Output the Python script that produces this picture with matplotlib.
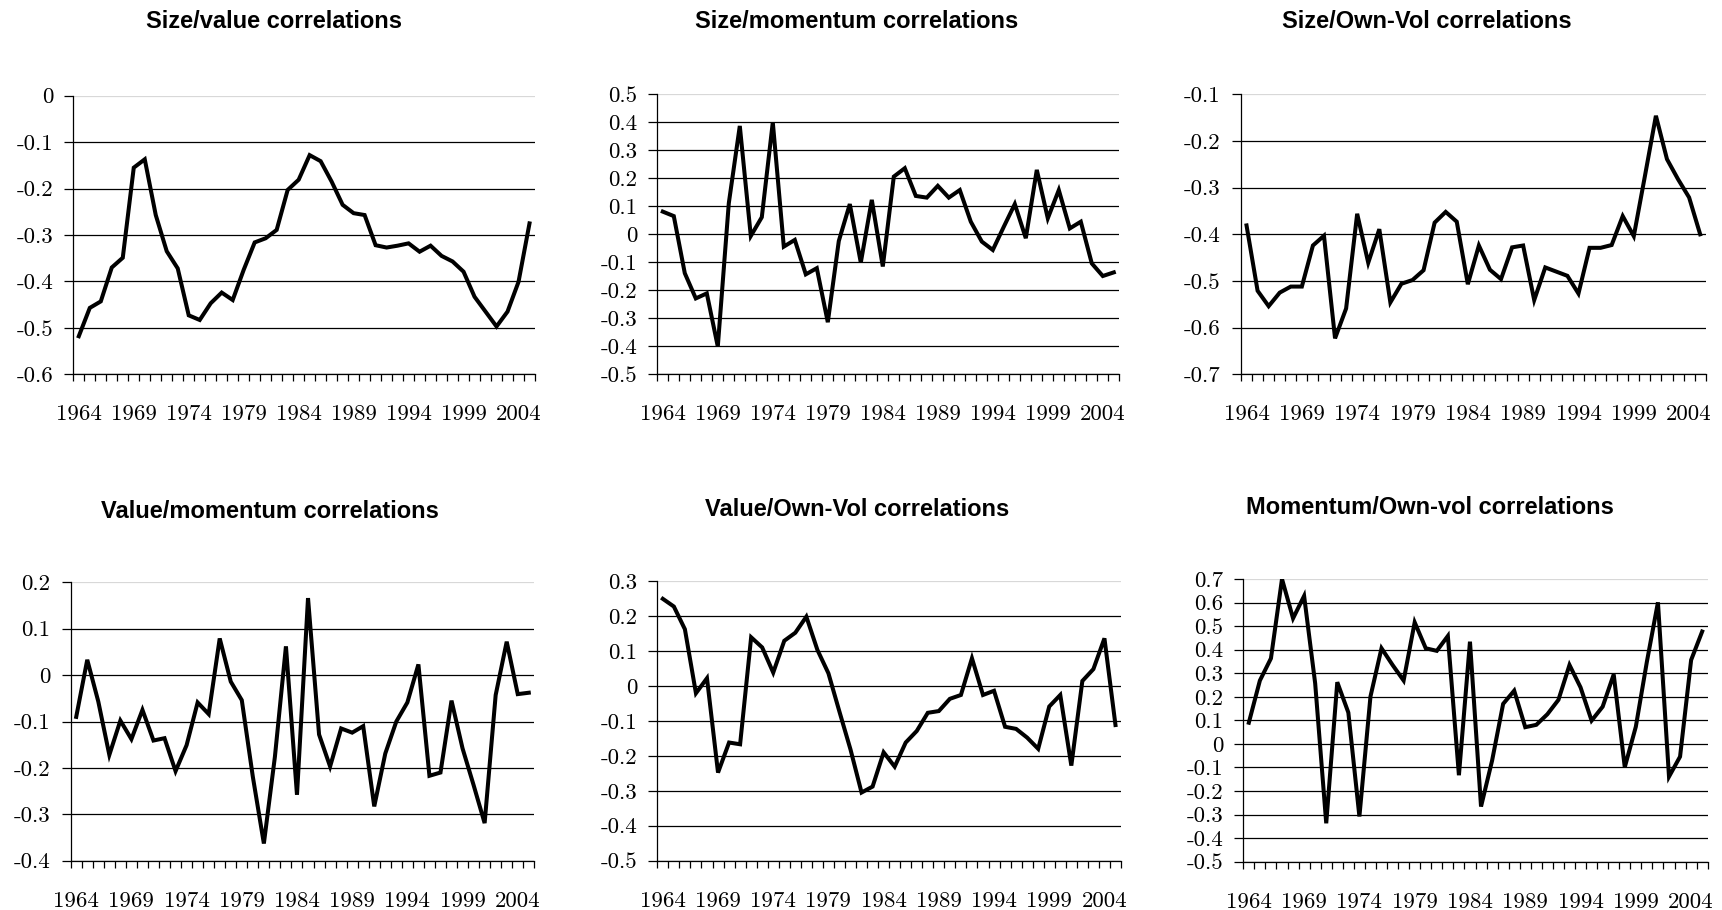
import matplotlib
matplotlib.use("Agg")
import matplotlib.pyplot as plt
from matplotlib.ticker import FixedLocator, FixedFormatter, NullFormatter

years = list(range(1964, 2006))

size_value = [-0.518, -0.457, -0.443, -0.370, -0.349, -0.155, -0.137, -0.257, -0.335, -0.372,
              -0.473, -0.483, -0.447, -0.424, -0.440, -0.375, -0.316, -0.307, -0.289, -0.203,
              -0.181, -0.128, -0.141, -0.185, -0.235, -0.253, -0.257, -0.322, -0.327, -0.323,
              -0.318, -0.336, -0.323, -0.345, -0.357, -0.379, -0.433, -0.465, -0.497, -0.465,
              -0.401, -0.275]

size_momentum = [0.081, 0.065, -0.139, -0.229, -0.211, -0.401, 0.111, 0.387, -0.006, 0.061,
                 0.400, -0.044, -0.020, -0.143, -0.121, -0.314, -0.024, 0.108, -0.101, 0.123,
                 -0.115, 0.206, 0.236, 0.137, 0.131, 0.173, 0.131, 0.158, 0.045, -0.026,
                 -0.056, 0.027, 0.108, -0.014, 0.230, 0.057, 0.158, 0.021, 0.045, -0.104,
                 -0.149, -0.136]

size_ownvol = [-0.381, -0.521, -0.554, -0.525, -0.512, -0.512, -0.424, -0.403, -0.623, -0.559,
               -0.356, -0.461, -0.389, -0.546, -0.506, -0.498, -0.477, -0.375, -0.352, -0.373,
               -0.507, -0.424, -0.476, -0.496, -0.428, -0.424, -0.541, -0.471, -0.480, -0.489,
               -0.527, -0.429, -0.429, -0.423, -0.361, -0.404, -0.276, -0.146, -0.239, -0.282,
               -0.321, -0.400]

value_momentum = [-0.090, 0.033, -0.057, -0.172, -0.098, -0.138, -0.075, -0.141, -0.136, -0.207,
                  -0.151, -0.059, -0.084, 0.079, -0.014, -0.054, -0.219, -0.363, -0.176, 0.062,
                  -0.258, 0.166, -0.128, -0.197, -0.115, -0.124, -0.110, -0.283, -0.169, -0.100,
                  -0.059, 0.023, -0.217, -0.210, -0.055, -0.158, -0.237, -0.319, -0.043, 0.072,
                  -0.041, -0.038]

value_ownvol = [0.249, 0.227, 0.162, -0.021, 0.022, -0.248, -0.162, -0.167, 0.139, 0.110,
                0.038, 0.129, 0.152, 0.198, 0.103, 0.036, -0.074, -0.182, -0.305, -0.288,
                -0.190, -0.231, -0.162, -0.129, -0.077, -0.072, -0.037, -0.026, 0.079, -0.026,
                -0.014, -0.117, -0.123, -0.148, -0.180, -0.059, -0.026, -0.228, 0.014, 0.048,
                0.136, -0.112]

momentum_ownvol = [0.090, 0.269, 0.363, 0.700, 0.533, 0.628, 0.257, -0.337, 0.262, 0.133,
                   -0.308, 0.201, 0.406, 0.335, 0.269, 0.516, 0.406, 0.395, 0.458, -0.133,
                   0.434, -0.266, -0.071, 0.170, 0.226, 0.071, 0.081, 0.126, 0.187, 0.335,
                   0.240, 0.099, 0.158, 0.295, -0.099, 0.073, 0.349, 0.601, -0.139, -0.054,
                   0.356, 0.477]

titles = ["Size/value correlations", "Size/momentum correlations", "Size/Own-Vol correlations",
          "Value/momentum correlations", "Value/Own-Vol correlations", "Momentum/Own-vol correlations"]

yticks = [
    [-0.6, -0.5, -0.4, -0.3, -0.2, -0.1, 0.0],
    [-0.5, -0.4, -0.3, -0.2, -0.1, 0.0, 0.1, 0.2, 0.3, 0.4, 0.5],
    [-0.7, -0.6, -0.5, -0.4, -0.3, -0.2, -0.1],
    [-0.4, -0.3, -0.2, -0.1, 0.0, 0.1, 0.2],
    [-0.5, -0.4, -0.3, -0.2, -0.1, 0.0, 0.1, 0.2, 0.3],
    [-0.5, -0.4, -0.3, -0.2, -0.1, 0.0, 0.1, 0.2, 0.3, 0.4, 0.5, 0.6, 0.7],
]

series = [size_value, size_momentum, size_ownvol, value_momentum, value_ownvol, momentum_ownvol]

W, H = 1722, 910
# axes boxes in pixels: left, right, top, bottom
boxes = [
    (73.3, 535.0, 95.7, 374.3),
    (657.3, 1119.3, 94.3, 374.3),
    (1241.0, 1705.7, 94.3, 374.3),
    (70.7, 534.3, 582.3, 860.7),
    (657.3, 1121.0, 581.0, 860.7),
    (1243.3, 1707.7, 579.0, 861.7),
]
title_pos = [(274, 22), (857, 22), (1427, 22), (270, 511), (857, 510), (1430, 507)]


def ylab(v):
    if abs(v) < 1e-9:
        return "0"
    return ("%.1f" % v).replace("\u2212", "-")


fig = plt.figure(figsize=(W / 100, H / 100), dpi=100)
serif = "cmr10"
n = len(years)
xs = list(range(n))

for k in range(6):
    l, r, t, b = boxes[k]
    ax = fig.add_axes([l / W, 1 - b / H, (r - l) / W, (b - t) / H])
    ax.plot(xs, series[k], color="black", lw=2.9, solid_joinstyle="miter", zorder=3)
    yt = yticks[k]
    ax.set_ylim(yt[0], yt[-1])
    ax.set_xlim(-0.5, n - 0.5)
    ax.yaxis.set_major_locator(FixedLocator(yt))
    ax.yaxis.set_major_formatter(FixedFormatter([ylab(v) for v in yt]))
    ax.yaxis.grid(True, color="black", lw=0.9)
    gls = ax.get_ygridlines()
    gls[-1].set_color("#d8d8d8")
    ax.set_axisbelow(True)
    major = xs[::5]
    ax.xaxis.set_major_locator(FixedLocator(major))
    ax.xaxis.set_major_formatter(FixedFormatter([str(years[i]) for i in major]))
    ax.xaxis.set_minor_locator(FixedLocator([i - 0.5 for i in range(n + 1)]))
    ax.xaxis.set_minor_formatter(NullFormatter())
    ax.tick_params(axis="x", which="major", length=0, pad=22)
    ax.tick_params(axis="x", which="minor", length=5, width=0.9, direction="out", color="black")
    ax.tick_params(axis="y", which="major", length=6.5, width=0.9, pad=8, color="black")
    for lab in ax.get_xticklabels() + ax.get_yticklabels():
        lab.set_fontfamily(serif)
        lab.set_fontsize(16.5)
    for s in ["top", "right"]:
        ax.spines[s].set_visible(False)
    ax.spines["left"].set_linewidth(0.9)
    ax.spines["bottom"].set_linewidth(0.9)
    tx, ty = title_pos[k]
    fig.text(tx / W, 1 - ty / H, titles[k], ha="center", va="center",
             fontsize=17, fontweight="bold", family="Liberation Sans")

fig.savefig("out.png", dpi=100)
